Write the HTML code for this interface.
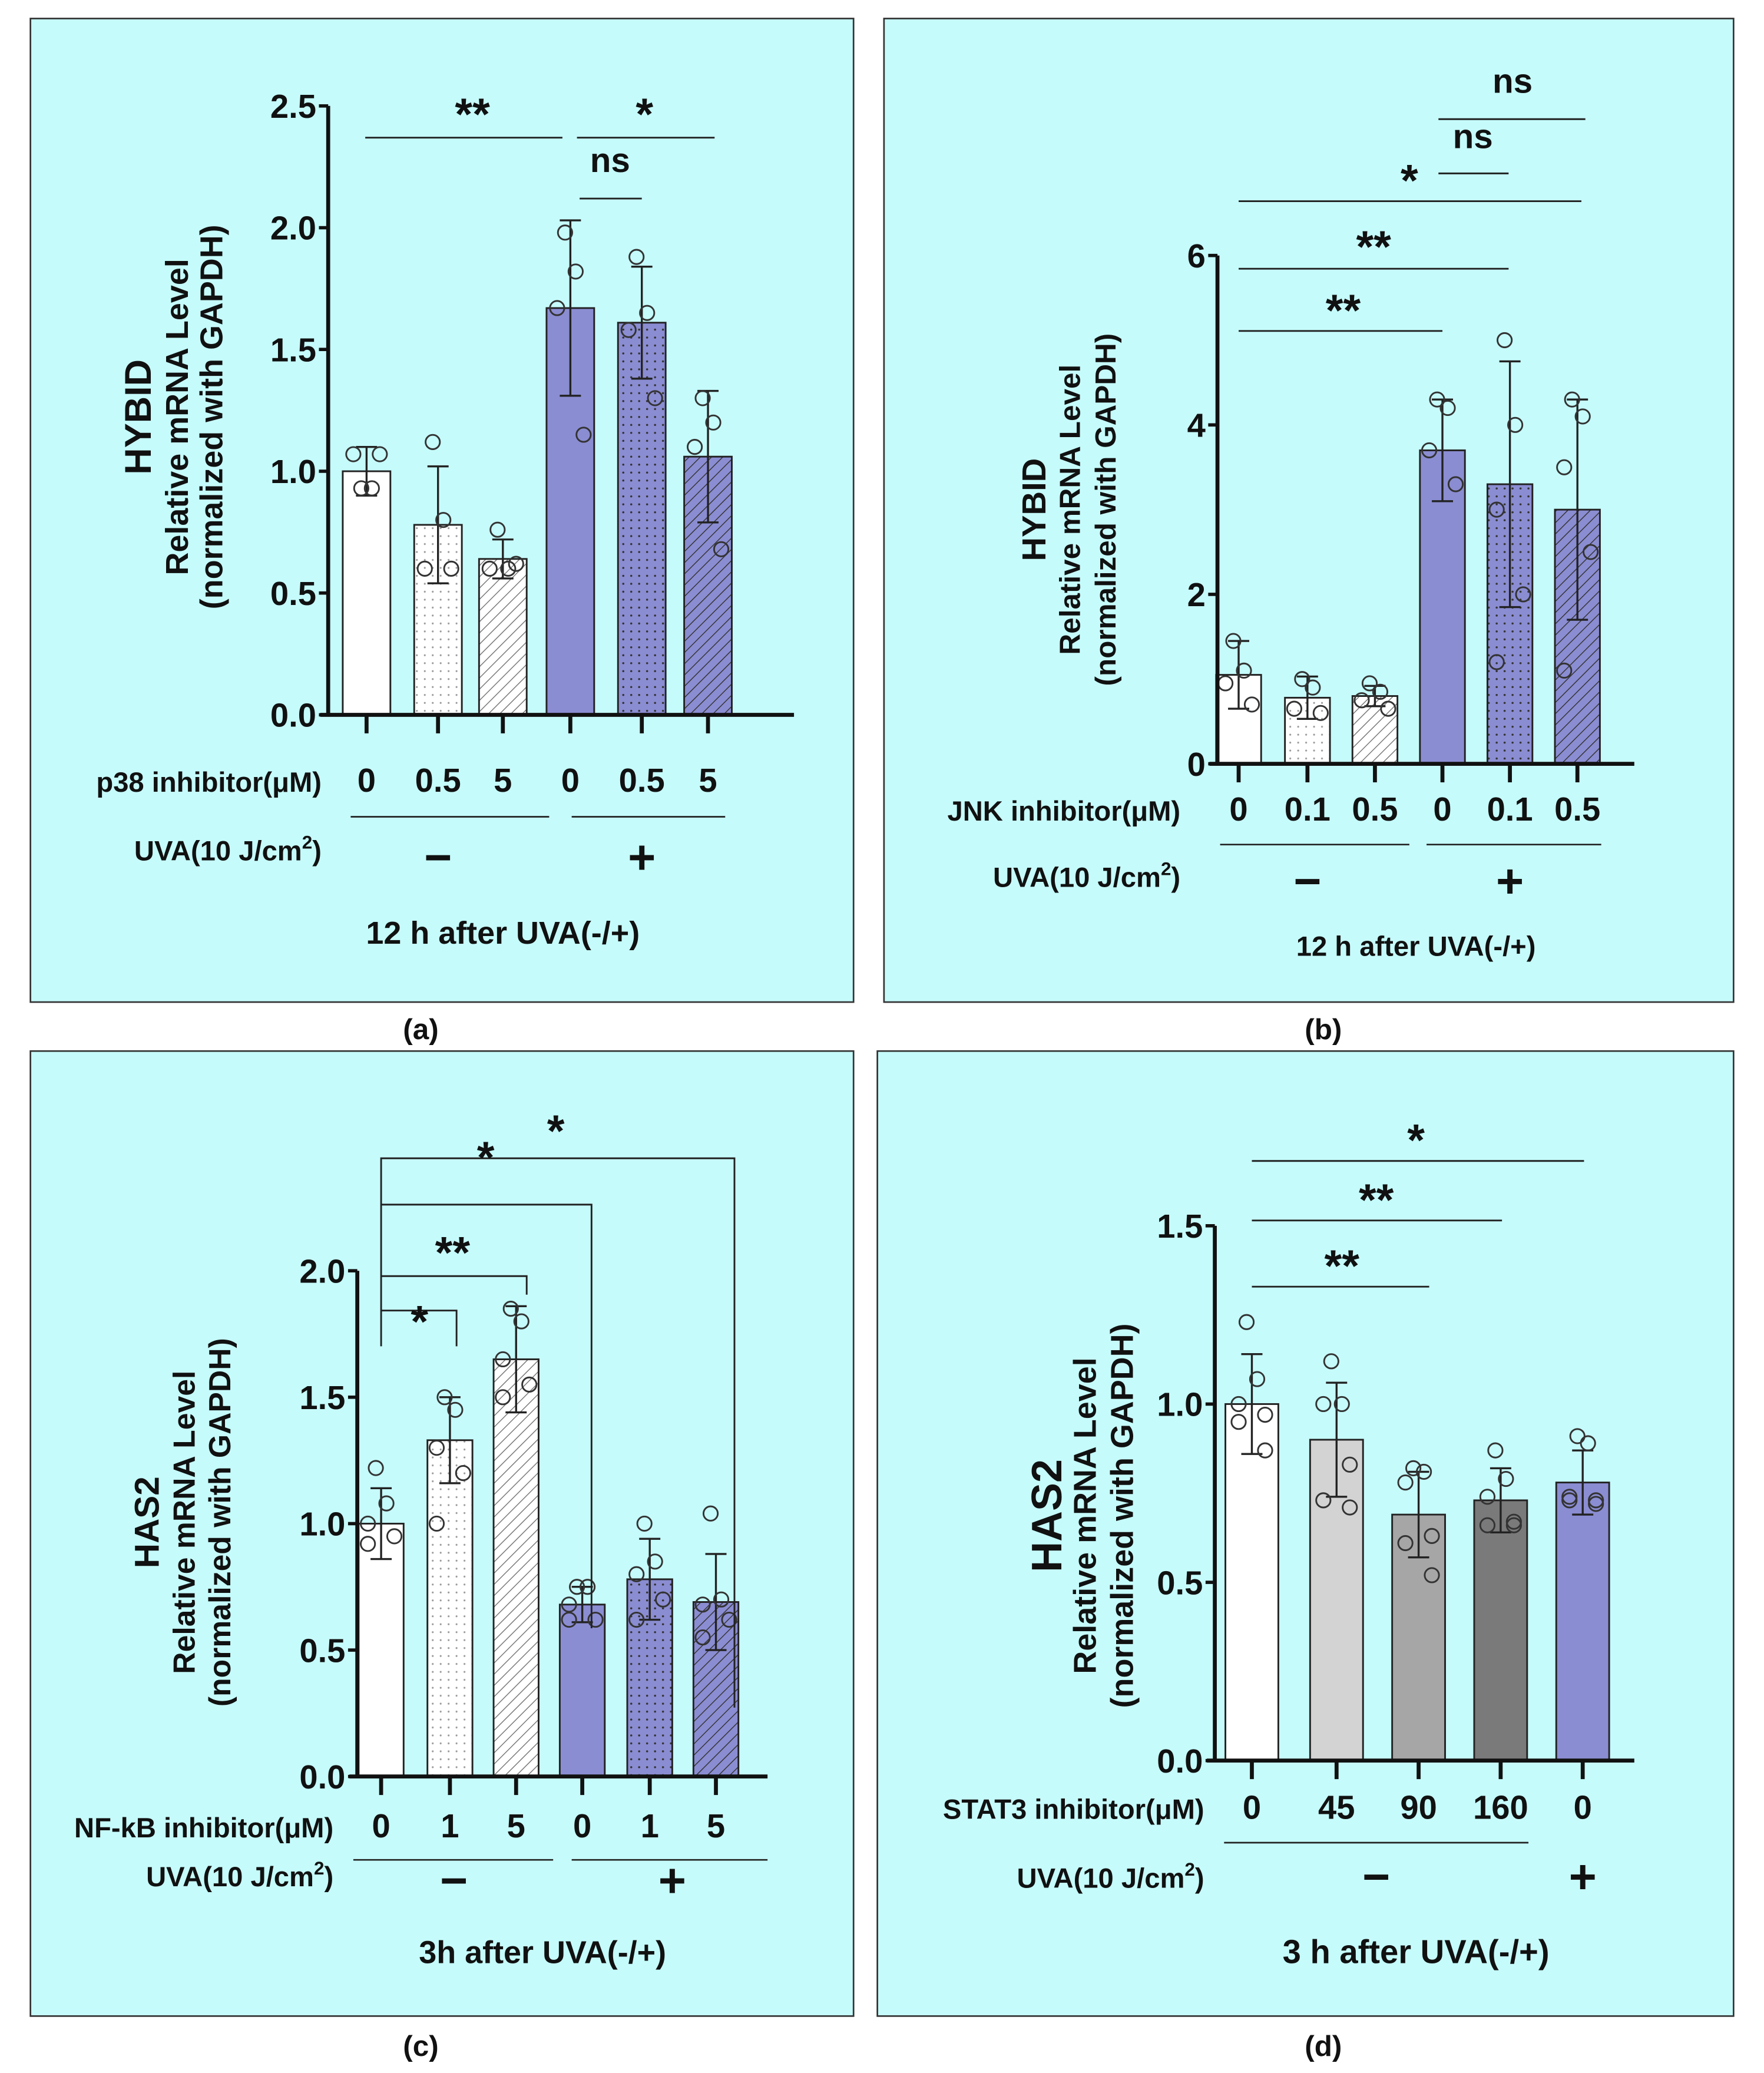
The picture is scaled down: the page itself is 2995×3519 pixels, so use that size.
<!DOCTYPE html>
<html><head><meta charset="utf-8"><style>
html,body{margin:0;padding:0;background:#fff}
svg{display:block}
text{font-family:"Liberation Sans Narrow","Liberation Sans",sans-serif;font-weight:bold;fill:#111}
</style></head><body>
<svg id="fig" xmlns="http://www.w3.org/2000/svg" width="2995" height="3519" viewBox="0 0 1333 1566" preserveAspectRatio="none">
<defs>
<pattern id="dotsW" width="6" height="6" patternUnits="userSpaceOnUse"><rect width="6" height="6" fill="#fff"/><circle cx="3" cy="3" r="0.7" fill="#999"/></pattern>
<pattern id="hatchW" width="6" height="6" patternUnits="userSpaceOnUse" patternTransform="rotate(45)"><rect width="6" height="6" fill="#fff"/><line x1="0" y1="0" x2="0" y2="6" stroke="#777" stroke-width="1.3"/></pattern>
<pattern id="dotsP" width="6" height="6" patternUnits="userSpaceOnUse"><rect width="6" height="6" fill="#8b8dd2"/><circle cx="3" cy="3" r="0.8" fill="#333"/></pattern>
<pattern id="hatchP" width="6" height="6" patternUnits="userSpaceOnUse" patternTransform="rotate(45)"><rect width="6" height="6" fill="#8b8dd2"/><line x1="0" y1="0" x2="0" y2="6" stroke="#333" stroke-width="1.3"/></pattern>
</defs>
</svg>
<script>
// ---- Panel a data ----
const aCats = ["0","0.5","5","0","0.5","5"];
const aVals = [1.0,0.78,0.64,1.67,1.61,1.06];
const aErr = [0.1,0.24,0.08,0.36,0.23,0.27];
const aPts = [[0.93,0.93,1.07,1.07],[1.12,0.8,0.6,0.6],[0.76,0.6,0.6,0.62],[1.98,1.82,1.67,1.15],[1.88,1.65,1.58,1.3],[1.3,1.2,1.1,0.68]];
const aTicks = [0,0.5,1.0,1.5,2.0,2.5];
// ---- Panel b data ----
const bCats = ["0","0.1","0.5","0","0.1","0.5"];
const bVals = [1.05,0.78,0.8,3.7,3.3,3.0];
const bErr = [0.4,0.25,0.12,0.6,1.45,1.3];
const bPts = [[1.45,1.1,0.95,0.7],[1.0,0.9,0.65,0.6],[0.95,0.85,0.75,0.65],[4.3,4.2,3.7,3.3],[5.0,4.0,3.0,2.0,1.2],[4.3,4.1,3.5,2.5,1.1]];
const bTicks = [0,2,4,6];
// ---- Panel c data ----
const cCats = ["0","1","5","0","1","5"];
const cVals = [1.0,1.33,1.65,0.68,0.78,0.69];
const cErr = [0.14,0.17,0.21,0.07,0.16,0.19];
const cPts = [[1.22,1.08,1.0,0.95,0.92],[1.5,1.45,1.3,1.2,1.0],[1.85,1.8,1.65,1.55,1.5],[0.75,0.75,0.68,0.62,0.62],[1.0,0.85,0.8,0.7,0.62],[1.04,0.7,0.68,0.62,0.55]];
const cTicks = [0,0.5,1.0,1.5,2.0];
// ---- Panel d data ----
const dCats = ["0","45","90","160","0"];
const dVals = [1.0,0.9,0.69,0.73,0.78];
const dErr = [0.14,0.16,0.12,0.09,0.09];
const dPts = [[1.23,1.07,1.0,0.97,0.95,0.87],[1.12,1.0,1.0,0.83,0.73,0.71],[0.82,0.81,0.78,0.63,0.61,0.52],[0.87,0.79,0.74,0.67,0.66,0.66],[0.91,0.89,0.74,0.73,0.73,0.72]];
const dTicks = [0,0.5,1.0,1.5];

const NS="http://www.w3.org/2000/svg";
const svg=document.getElementById('fig');
function mk(tag,attrs,parent,txt){const e=document.createElementNS(NS,tag);for(const k in attrs)e.setAttribute(k,attrs[k]);if(txt!==undefined)e.textContent=txt;(parent||svg).appendChild(e);return e;}

function panel(P){
  const g=mk('g',{});
  
  
  const bx=mk('rect',{x:P.box[0],y:P.box[1],width:P.box[2]-P.box[0],height:P.box[3]-P.box[1],fill:'#c6fbfb',stroke:'#333','stroke-width':1.2},g);
  
  
  const y=v=>P.y0-(v-0)*(P.y0-P.yTop)/P.yMax;
  const x=i=>P.xs[i];
  P.vals.forEach((v,i)=>{
    const r=mk('rect',{x:x(i)-P.bw/2,y:y(v),width:P.bw,height:P.y0-y(v),fill:P.fills[i],stroke:'#222','stroke-width':1.3},g);
    
    
    const e=mk('path',{d:`M${x(i)},${y(v-P.err[i])}V${y(v+P.err[i])}M${x(i)-8},${y(v+P.err[i])}h16M${x(i)-8},${y(v-P.err[i])}h16`,stroke:'#222','stroke-width':1.5,fill:'none'},g);
    
    
    P.pts[i].forEach((p,j)=>{
      const c=mk('circle',{cx:x(i)+((j%2)?1:-1)*(j<2?4:10),cy:y(p),r:5.4,fill:'none',stroke:'#333','stroke-width':1.3},g);
      
      
    });
  });
  const ax=mk('path',{d:`M${P.xAxis},${P.yTop}V${P.y0}M${P.xAxis-6},${P.y0}H${P.xEnd}`,stroke:'#111','stroke-width':3,fill:'none'},g);
  
  
  P.ticks.forEach(t=>{
    mk('line',{x1:P.xAxis-7,x2:P.xAxis,y1:y(t),y2:y(t),stroke:'#111','stroke-width':2.5},g);
    const tl=mk('text',{x:P.xAxis-9,y:y(t)+9,'text-anchor':'end','font-size':25},g,P.tickFmt(t));
    
    
  });
  P.cats.forEach((c,i)=>{
    mk('line',{x1:x(i),x2:x(i),y1:P.y0,y2:P.y0+14,stroke:'#111','stroke-width':3},g);
    const tl=mk('text',{x:x(i),y:P.catY,'text-anchor':'middle','font-size':25},g,c);
    
    
  });
  const il=mk('text',{x:P.labX,y:P.catY,'text-anchor':'end','font-size':21},g,P.inhib);
  
  
  const ul=mk('text',{x:P.labX,y:P.uvaY,'text-anchor':'end','font-size':21},g);
  
  
  ul.innerHTML='UVA(10 J/cm<tspan font-size="14" dy="-9">2</tspan><tspan dy="9">)</tspan>';
  P.groups.forEach(gr=>{
    mk('line',{x1:gr[0],x2:gr[1],y1:P.grpY,y2:P.grpY,stroke:'#222','stroke-width':1.2},g);
    const s=mk('text',{x:gr[2],y:gr[3],'text-anchor':'middle','font-size':36,'font-weight':'normal'},g,gr[4]);
    
    
  });
  const tt=mk('text',{x:P.title[0],y:P.title[1],'text-anchor':'middle','font-size':P.titleFs},g,P.title[2]);
  
  
  P.ylab.forEach(l=>{
    const t=mk('text',{x:0,y:0,transform:`translate(${l[0]},${P.ylabY}) rotate(-90)`,'text-anchor':'middle','font-size':l[2],'font-family':'Liberation Sans, sans-serif'},g,l[1]);
    
    
  });
  P.sig.forEach(s=>{
    mk('path',{d:s[0],stroke:'#222','stroke-width':1.3,fill:'none'},g);
    const t=mk('text',{x:s[1],y:s[2]+(s[3]==='ns'?0:6),'text-anchor':'middle','font-size':s[3]==='ns'?26:34,'font-weight':s[3]==='ns'?'normal':'bold'},g,s[3]);
    
    
  });
  const cap=mk('text',{x:P.cap[0],y:P.cap[1],'text-anchor':'middle','font-size':22,'font-family':'Liberation Serif, serif','font-weight':'normal'},g);
  
  
  cap.innerHTML='(<tspan font-weight="bold">'+P.id+'</tspan>)';
}
const W='#fff',PU='#8b8dd2';
panel({id:'a',box:[23,14,645,757],y0:540,yTop:80,yMax:2.5,xAxis:248,xEnd:600,xs:[277,331,380,431,485,535],bw:36,
 vals:aVals,err:aErr,pts:aPts,cats:aCats,ticks:aTicks,tickFmt:t=>t.toFixed(1),
 fills:[W,'url(#dotsW)','url(#hatchW)',PU,'url(#dotsP)','url(#hatchP)'],
 catY:598,labX:243,uvaY:650,inhib:'p38 inhibitor(μM)',grpY:617,
 groups:[[265,415,331,660,'−'],[432,548,485,660,'+']],title:[380,713,'12 h after UVA(-/+)'],titleFs:24,
 ylab:[[114,'HYBID',28],[142,'Relative mRNA Level',24],[168,'(normalized with GAPDH)',24]],ylabY:315,
 sig:[['M276,104H425',357,92,'**'],['M436,104H540',487,92,'*'],['M438,150H485',461,130,'ns']],cap:[318,785]});
panel({id:'b',box:[668,14,1310,757],y0:577,yTop:193,yMax:6,xAxis:920,xEnd:1235,xs:[936,988,1039,1090,1141,1192],bw:34,
 vals:bVals,err:bErr,pts:bPts,cats:bCats,ticks:bTicks,tickFmt:t=>String(t),
 fills:[W,'url(#dotsW)','url(#hatchW)',PU,'url(#dotsP)','url(#hatchP)'],
 catY:620,labX:892,uvaY:670,inhib:'JNK inhibitor(μM)',grpY:638,
 groups:[[922,1065,988,678,'−'],[1078,1210,1141,678,'+']],title:[1070,722,'12 h after UVA(-/+)'],titleFs:21,
 ylab:[[790,'HYBID',25],[816,'Relative mRNA Level',22],[843,'(normalized with GAPDH)',22]],ylabY:385,
 sig:[['M936,250H1090',1015,240,'**'],['M936,203H1140',1038,192,'**'],['M936,152H1195',1065,142,'*'],['M1087,131H1140',1113,112,'ns'],['M1087,90H1198',1143,70,'ns']],cap:[1000,785]});
panel({id:'c',box:[23,794,645,1523],y0:1342,yTop:960,yMax:2.0,xAxis:270,xEnd:580,xs:[288,340,390,440,491,541],bw:34,
 vals:cVals,err:cErr,pts:cPts,cats:cCats,ticks:cTicks,tickFmt:t=>t.toFixed(1),
 fills:[W,'url(#dotsW)','url(#hatchW)',PU,'url(#dotsP)','url(#hatchP)'],
 catY:1388,labX:252,uvaY:1425,inhib:'NF-kB inhibitor(μM)',grpY:1405,
 groups:[[267,418,343,1433,'−'],[432,580,508,1433,'+']],title:[410,1483,'3h after UVA(-/+)'],titleFs:24,
 ylab:[[120,'HAS2',26],[147,'Relative mRNA Level',23],[174,'(normalized with GAPDH)',23]],ylabY:1150,
 sig:[['M288,1017V875H555V1290',420,860,'*'],['M288,910H447V1230',367,880,'*'],['M288,964H398V978',342,952,'**'],['M288,990H345V1017',317,1004,'*']],cap:[318,1553]});
panel({id:'d',box:[663,794,1310,1523],y0:1330,yTop:926,yMax:1.5,xAxis:918,xEnd:1235,xs:[946,1010,1072,1134,1196],bw:40,
 vals:dVals,err:dErr,pts:dPts,cats:dCats,ticks:dTicks,tickFmt:t=>t.toFixed(1),
 fills:[W,'#d3d3d3','#a6a6a6','#7a7a7a',PU],
 catY:1374,labX:910,uvaY:1426,inhib:'STAT3 inhibitor(μM)',grpY:1392,
 groups:[[925,1155,1040,1430,'−'],[1165,1165,1196,1430,'+']],title:[1070,1483,'3 h after UVA(-/+)'],titleFs:25,
 ylab:[[802,'HAS2',32],[828,'Relative mRNA Level',24],[856,'(normalized with GAPDH)',24]],ylabY:1145,
 sig:[['M946,972H1080',1014,962,'**'],['M946,922H1135',1040,912,'**'],['M946,877H1197',1070,867,'*']],cap:[1000,1553]});
</script>
</body></html>
